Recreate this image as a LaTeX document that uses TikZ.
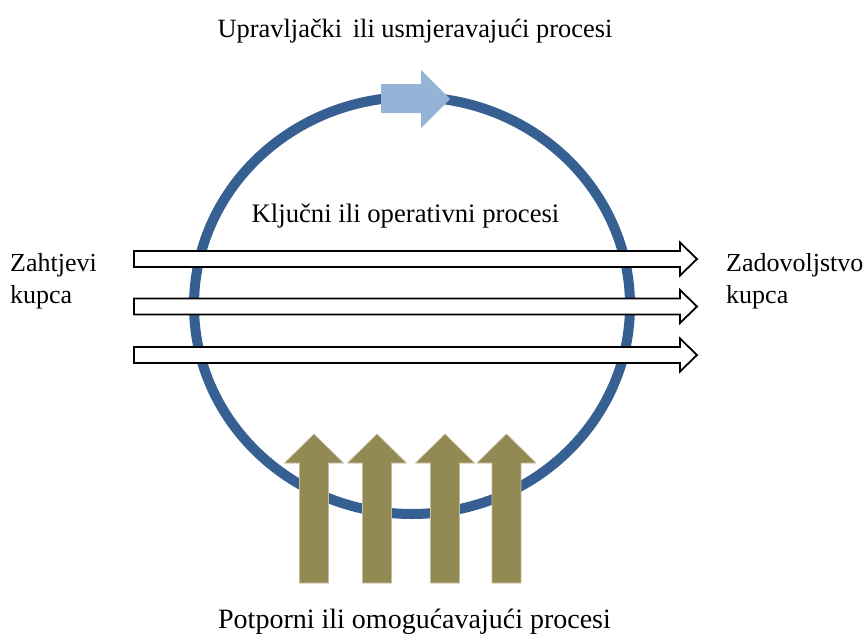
\documentclass[tikz,border=0pt]{standalone}
\usepackage{fontspec}
\setmainfont{Liberation Serif}
\usetikzlibrary{positioning}

\definecolor{ringblue}{RGB}{55,96,146}
\definecolor{mgmtblue}{RGB}{149,179,215}
\definecolor{supbrown}{RGB}{147,137,83}

\begin{document}
\begin{tikzpicture}[x=1pt,y=-1pt,
  txt/.style={font=\fontsize{26}{32}\selectfont,inner sep=0pt,align=left},
  ring/.style={draw=ringblue,line width=10pt},
  keyflow/.style={draw=black,fill=white,line width=1.8pt,line join=miter},
  supflow/.style={fill=supbrown,draw=supbrown!55!white,line width=0.6pt}]

  \useasboundingbox (0,0) rectangle (867,635);

  % process ring
  \draw[ring] (412,305.5) ellipse [x radius=218, y radius=208.5];

  % management arrow on top of the ring
  \fill[mgmtblue] (381,84) -- (421,84) -- (421,70) -- (450,99) -- (421,128) -- (421,113) -- (381,113) -- cycle;

  % key processes
  \foreach \y in {259,306.5,355}
    \draw[keyflow] (134,\y-8) -- (680,\y-8) -- (680,\y-16.5) -- (697,\y) -- (680,\y+16.5) -- (680,\y+8) -- (134,\y+8) -- cycle;

  % support processes
  \foreach \x in {314,377,445,506.5}
    \draw[supflow] (\x-14.5,583) -- (\x-14.5,463) -- (\x-29.5,463) -- (\x,434) -- (\x+29.5,463) -- (\x+14.5,463) -- (\x+14.5,583) -- cycle;

  \node[txt,anchor=base,font=\fontsize{26.4}{32}\selectfont] (mgmt) at (415,37) {Upravljački\hspace{4pt} ili usmjeravajući procesi};
  \node[txt,anchor=base,font=\fontsize{26.7}{32}\selectfont] (core) at (405.5,222) {Ključni ili operativni procesi};
  \node[txt,anchor=base,font=\fontsize{28}{32}\selectfont] (sup) at (414.5,628) {Potporni ili omogućavajući procesi};
  \node[txt,anchor=base west] (demand) at (10,303) {Zahtjevi\\kupca};
  \node[txt,anchor=base west] (satisf) at (726,303) {Zadovoljstvo\\kupca};

\end{tikzpicture}
\end{document}
